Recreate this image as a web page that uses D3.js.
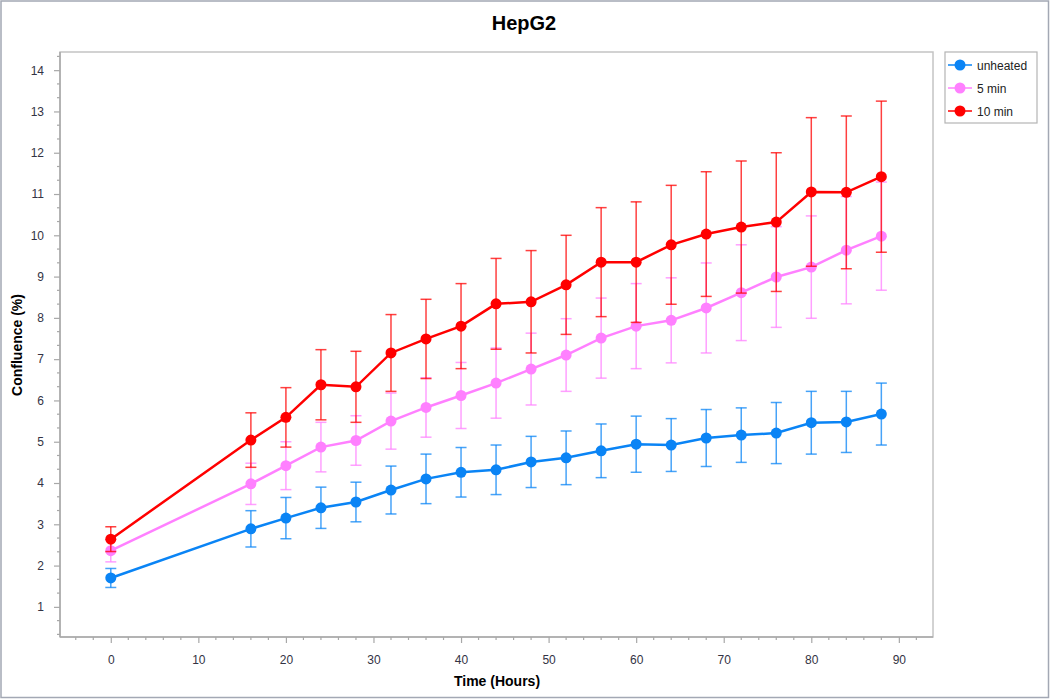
<!DOCTYPE html>
<html>
<head>
<meta charset="utf-8">
<script src="https://cdn.jsdelivr.net/npm/d3@7"></script>
<style>
  html, body { margin: 0; padding: 0; background: #fff; }
  svg { display: block; font-family: "Liberation Sans", Arial, sans-serif; }
</style>
</head>
<body>
<svg id="chart" width="1050" height="699"></svg>
<script>
const title = "HepG2";
const xLabel = "Time (Hours)";
const yLabel = "Confluence (%)";
const times = [0, 16, 20, 24, 28, 32, 36, 40, 44, 48, 52, 56, 60, 64, 68, 72, 76, 80, 84, 88];
const seriesNames = ["unheated", "5 min", "10 min"];
const seriesColors = ["#0a84f5", "#ff80ff", "#ff0000"];
const unheated = [1.70, 2.89, 3.15, 3.40, 3.54, 3.83, 4.10, 4.26, 4.32, 4.51, 4.61, 4.78, 4.94, 4.92, 5.09, 5.16, 5.21, 5.46, 5.48, 5.67];
const unheatedErr = [0.23, 0.44, 0.50, 0.50, 0.48, 0.58, 0.60, 0.60, 0.60, 0.62, 0.65, 0.65, 0.68, 0.64, 0.69, 0.66, 0.74, 0.76, 0.74, 0.75];
const min5 = [2.36, 3.98, 4.42, 4.87, 5.03, 5.50, 5.83, 6.12, 6.42, 6.76, 7.10, 7.51, 7.80, 7.94, 8.24, 8.61, 8.99, 9.23, 9.64, 9.98];
const min5Err = [0.27, 0.50, 0.58, 0.60, 0.60, 0.68, 0.72, 0.80, 0.85, 0.87, 0.88, 0.97, 1.03, 1.03, 1.09, 1.16, 1.22, 1.24, 1.30, 1.31];
const min10 = [2.64, 5.04, 5.59, 6.38, 6.33, 7.15, 7.49, 7.80, 8.34, 8.39, 8.80, 9.35, 9.35, 9.77, 10.03, 10.20, 10.32, 11.05, 11.04, 11.42];
const min10Err = [0.30, 0.66, 0.72, 0.85, 0.86, 0.93, 0.96, 1.03, 1.10, 1.24, 1.20, 1.32, 1.46, 1.44, 1.51, 1.60, 1.68, 1.80, 1.85, 1.83];
const xTicks = [0, 10, 20, 30, 40, 50, 60, 70, 80, 90];
const yTicks = [1, 2, 3, 4, 5, 6, 7, 8, 9, 10, 11, 12, 13, 14];

const seriesValues = [unheated, min5, min10];
const seriesErrors = [unheatedErr, min5Err, min10Err];

const svg = d3.select("#chart");
const W = 1050, H = 699;
const plot = { left: 60, top: 52, right: 933, bottom: 637 };

// outer frame
svg.append("rect").attr("x", 1).attr("y", 1).attr("width", W - 2.5).attr("height", H - 2.5)
  .attr("fill", "#fff").attr("stroke", "#a3a8b4").attr("stroke-width", 1.5);

const x = d3.scaleLinear().domain([-5.8, 93.9]).range([plot.left, plot.right]);
const y = d3.scaleLinear().domain([0.27, 14.44]).range([plot.bottom, plot.top]);

// plot frame
svg.append("rect").attr("x", plot.left).attr("y", plot.top)
  .attr("width", plot.right - plot.left).attr("height", plot.bottom - plot.top)
  .attr("fill", "#fff").attr("stroke", "#c4c4c4").attr("stroke-width", 1.5);

// title
svg.append("text").attr("x", 524).attr("y", 30).attr("text-anchor", "middle")
  .attr("font-size", 20).attr("font-weight", "bold").attr("fill", "#000").text(title);

// axes
const axisColor = "#a8a8a8";
const tickTextColor = "#333344";

const xMinor = d3.range(-4, 93, 2).filter(v => v % 10 !== 0);
const xAxis = svg.append("g").attr("transform", `translate(0,${plot.bottom})`)
  .call(d3.axisBottom(x).tickValues(xTicks).tickSize(6).tickPadding(12).tickFormat(d3.format("d")));
xAxis.select(".domain").attr("stroke", axisColor).attr("stroke-width", 1.5)
  .attr("d", `M${plot.left},0H${plot.right}`);
xAxis.selectAll(".tick line").attr("stroke", axisColor).attr("stroke-width", 1.2);
xAxis.selectAll(".tick text").attr("font-size", 12).attr("fill", tickTextColor)
  .attr("font-family", "Liberation Sans, Arial, sans-serif");
xAxis.selectAll(".minor").data(xMinor).enter().append("line")
  .attr("x1", d => x(d)).attr("x2", d => x(d)).attr("y1", 0).attr("y2", 3)
  .attr("stroke", axisColor).attr("stroke-width", 1.2);

const yMinor = d3.range(1, 44).map(i => i / 3).filter(v => Math.abs(v - Math.round(v)) > 0.01 && v < 14.44);
const yAxis = svg.append("g").attr("transform", `translate(${plot.left},0)`)
  .call(d3.axisLeft(y).tickValues(yTicks).tickSize(6).tickPadding(10).tickFormat(d3.format("d")));
yAxis.select(".domain").attr("stroke", axisColor).attr("stroke-width", 1.5)
  .attr("d", `M0,${plot.top}V${plot.bottom}`);
yAxis.selectAll(".tick line").attr("stroke", axisColor).attr("stroke-width", 1.2);
yAxis.selectAll(".tick text").attr("font-size", 12).attr("fill", tickTextColor)
  .attr("font-family", "Liberation Sans, Arial, sans-serif");
yAxis.selectAll(".minor").data(yMinor).enter().append("line")
  .attr("x1", 0).attr("x2", -3).attr("y1", d => y(d)).attr("y2", d => y(d))
  .attr("stroke", axisColor).attr("stroke-width", 1.2);

// axis titles
svg.append("text").attr("x", 497).attr("y", 686).attr("text-anchor", "middle")
  .attr("font-size", 14).attr("font-weight", "bold").attr("fill", "#000").text(xLabel);
svg.append("text").attr("transform", `translate(22,345) rotate(-90)`).attr("text-anchor", "middle")
  .attr("font-size", 14).attr("font-weight", "bold").attr("fill", "#000").text(yLabel);

// series
const line = d3.line().x(d => x(d.t)).y(d => y(d.v));
seriesNames.forEach((name, si) => {
  const color = seriesColors[si];
  const data = times.map((t, i) => ({ t, v: seriesValues[si][i], e: seriesErrors[si][i] }));
  const g = svg.append("g");
  const eb = g.append("g").attr("stroke", color).attr("stroke-opacity", 0.75).attr("stroke-width", 1.5);
  data.forEach(d => {
    const cx = x(d.t), y1 = y(d.v + d.e), y2 = y(d.v - d.e);
    eb.append("line").attr("x1", cx).attr("x2", cx).attr("y1", y1).attr("y2", y2);
    eb.append("line").attr("x1", cx - 5.5).attr("x2", cx + 5.5).attr("y1", y1).attr("y2", y1);
    eb.append("line").attr("x1", cx - 5.5).attr("x2", cx + 5.5).attr("y1", y2).attr("y2", y2);
  });
  g.append("path").datum(data).attr("d", line).attr("fill", "none")
    .attr("stroke", color).attr("stroke-width", 2.5);
  g.selectAll("circle").data(data).enter().append("circle")
    .attr("cx", d => x(d.t)).attr("cy", d => y(d.v)).attr("r", 5.5).attr("fill", color);
});

// legend
const lg = svg.append("g");
lg.append("rect").attr("x", 945).attr("y", 52).attr("width", 92).attr("height", 71)
  .attr("fill", "#fff").attr("stroke", "#b4b4b4").attr("stroke-width", 1.2);
seriesNames.forEach((name, si) => {
  const cy = 65 + si * 23;
  lg.append("line").attr("x1", 948).attr("x2", 972).attr("y1", cy).attr("y2", cy)
    .attr("stroke", seriesColors[si]).attr("stroke-width", 1.5);
  lg.append("circle").attr("cx", 960).attr("cy", cy).attr("r", 5.5).attr("fill", seriesColors[si]);
  lg.append("text").attr("x", 977).attr("y", cy + 4.5).attr("font-size", 12)
    .attr("fill", "#222").text(name);
});
</script>
</body>
</html>
